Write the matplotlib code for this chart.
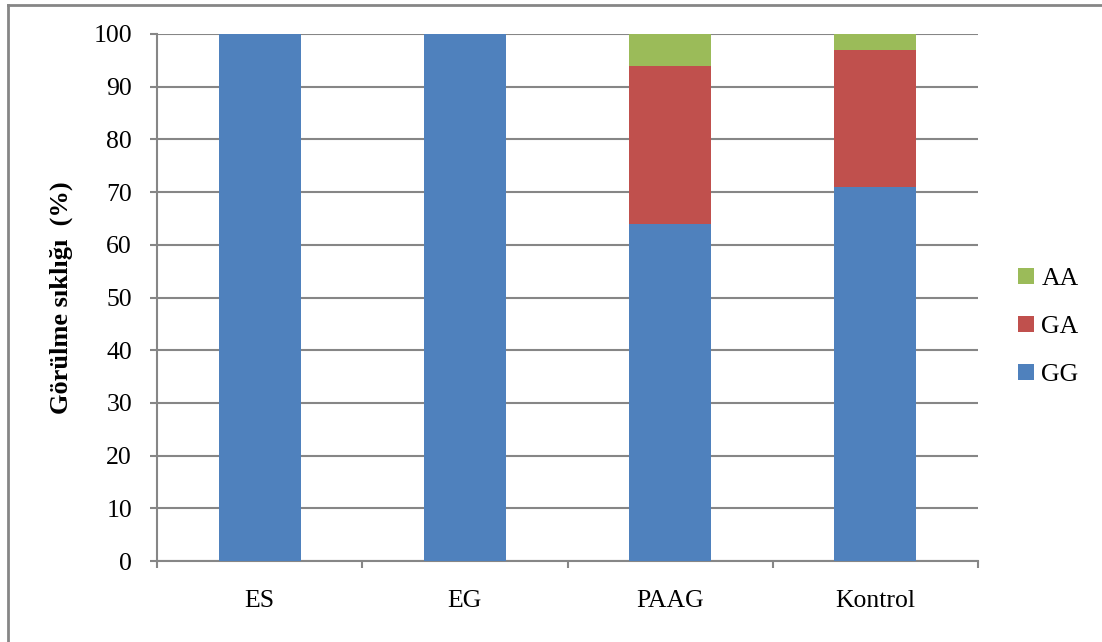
import matplotlib
matplotlib.use("Agg")
import matplotlib.pyplot as plt
from matplotlib.patches import Patch
import numpy as np

# Genotype frequencies (%) per group
categories = ["ES", "EG", "PAAG", "Kontrol"]
gg = [100, 100, 64, 71]
ga = [0, 0, 30, 26]
aa = [0, 0, 6, 3]
series_names = ["GG", "GA", "AA"]
colors = {"GG": "#4F81BD", "GA": "#C0504D", "AA": "#9BBB59"}
yticks = list(range(0, 101, 10))

plt.rcParams["font.family"] = ["Liberation Serif", "DejaVu Serif"]

fig = plt.figure(figsize=(11.02, 6.42), dpi=100)
ax = fig.add_axes([157 / 1102, 1 - 561 / 642, (978 - 157) / 1102, (561 - 34) / 642])

x = np.arange(len(categories))
width = 0.4
ax.bar(x, gg, width, color=colors["GG"], zorder=3)
ax.bar(x, ga, width, bottom=gg, color=colors["GA"], zorder=3)
bottom_aa = [a + b for a, b in zip(gg, ga)]
ax.bar(x, aa, width, bottom=bottom_aa, color=colors["AA"], zorder=3)

grid_color = "#868686"
ax.set_ylim(0, 100)
ax.set_xlim(-0.5, len(categories) - 0.5)
ax.set_yticks(yticks)
ax.set_yticklabels([str(v) for v in yticks], fontsize=18.5)
ax.yaxis.grid(True, color=grid_color, linewidth=1.5, zorder=0)
ax.set_axisbelow(True)

# category labels centered, ticks on category boundaries
ax.set_xticks(np.arange(-0.5, len(categories), 1.0))
ax.set_xticklabels([""] * (len(categories) + 1))
ax.set_xticks(x, minor=True)
ax.set_xticklabels(categories, minor=True, fontsize=18.5)
ax.tick_params(axis="x", which="minor", length=0, pad=21)
ax.tick_params(axis="x", which="major", length=5, width=1.5, color=grid_color, direction="out")
ax.tick_params(axis="y", length=5, width=1.5, color=grid_color, direction="out", pad=13)

for side in ["top", "right"]:
    ax.spines[side].set_visible(False)
for side in ["left", "bottom"]:
    ax.spines[side].set_color(grid_color)
    ax.spines[side].set_linewidth(1.5)

ax.set_ylabel("Görülme sıklığı  (%)", fontsize=19, fontweight="bold", labelpad=15)

handles = [Patch(facecolor=colors[n]) for n in reversed(series_names)]
fig.legend(handles, list(reversed(series_names)), loc="center left",
           bbox_to_anchor=(1008 / 1102, 1 - 327 / 642), frameon=False,
           fontsize=18.5, handlelength=0.6, handleheight=0.6, handletextpad=0.3,
           labelspacing=1.0, borderaxespad=0)

# outer chart frame
fig.add_artist(plt.Line2D([8 / 1102, 8 / 1102], [0, 1 - 5 / 642], color=grid_color,
                          linewidth=2, transform=fig.transFigure))
fig.add_artist(plt.Line2D([8 / 1102, 1], [1 - 5 / 642, 1 - 5 / 642], color=grid_color,
                          linewidth=2, transform=fig.transFigure))

fig.savefig("out.png", dpi=100, facecolor="white")
